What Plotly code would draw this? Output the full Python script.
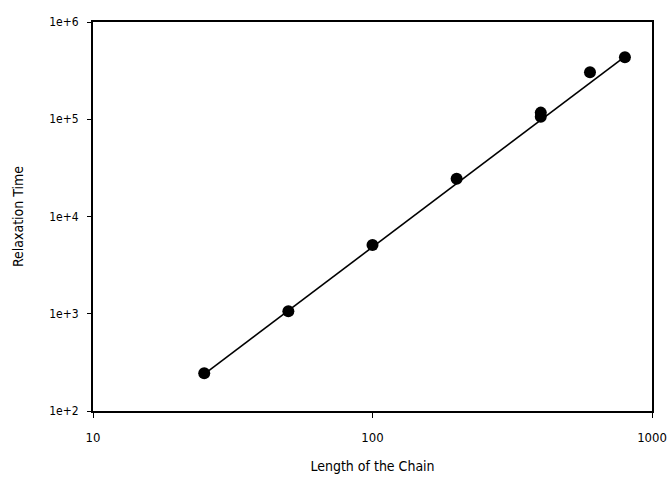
import plotly.graph_objects as go

chain_length = [25, 50, 100, 200, 400, 400, 600, 800]
relax_time = [245, 1060, 5100, 24500, 106000, 117000, 305000, 435000]

fit_x = [25, 800]
fit_y = [240, 440000]

x_ticks = [10, 100, 1000]
x_ticktext = ["10", "100", "1000"]
y_ticks = [1e2, 1e3, 1e4, 1e5, 1e6]
y_ticktext = ["1e+2", "1e+3", "1e+4", "1e+5", "1e+6"]

fig = go.Figure()
fig.add_trace(go.Scatter(x=fit_x, y=fit_y, mode="lines",
                         line=dict(color="black", width=1.6), showlegend=False))
fig.add_trace(go.Scatter(x=chain_length, y=relax_time, mode="markers",
                         marker=dict(color="black", size=12), showlegend=False))

font = dict(family="DejaVu Sans Condensed, Liberation Sans, sans-serif", color="#000", size=13)
fig.update_layout(
    width=667, height=477,
    margin=dict(l=93, r=15, t=22, b=66),
    paper_bgcolor="white", plot_bgcolor="white",
    font=font,
    xaxis=dict(type="log", range=[1, 3], tickvals=x_ticks, ticktext=x_ticktext,
               showgrid=False, zeroline=False, showline=True, linecolor="black",
               linewidth=2, mirror=True, ticks="outside", ticklen=5, tickcolor="black",
               ticklabelstandoff=8, automargin=False,
               title=dict(text="Length of the Chain", standoff=18, font=dict(size=14))),
    yaxis=dict(type="log", range=[2, 6], tickvals=y_ticks, ticktext=y_ticktext,
               showgrid=False, zeroline=False, showline=True, linecolor="black",
               linewidth=2, mirror=True, ticks="outside", ticklen=4, tickcolor="black",
               ticklabelstandoff=6, tickfont=dict(size=12), automargin=False,
               title=dict(text="Relaxation Time", standoff=22, font=dict(size=14))),
)
fig.write_html("out.html")
